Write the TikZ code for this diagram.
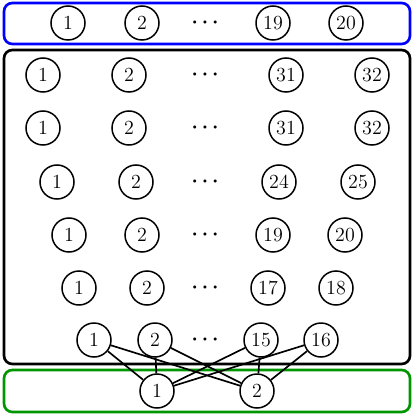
\documentclass[tikz,border=0pt]{standalone}
\usepackage{amsmath}
\usepackage{bm}
\begin{document}
\begin{tikzpicture}[x=0.6pt,y=-0.6pt,
  nd/.style={draw,circle,line width=0.9pt,minimum size=20.4pt,inner sep=0pt,font=\large},
  dt/.style={inner sep=0pt,font=\large},
  box/.style={line width=1.6pt,rounded corners=5pt},
  ed/.style={line width=1pt}]
\useasboundingbox (0,0) rectangle (415,415);
\definecolor{gr}{RGB}{0,150,0}
\draw[box,blue] (4,3) rectangle (410,44);
\draw[box,black] (4,50) rectangle (410,364);
\draw[box,gr] (4,370) rectangle (410,412);
% top row
\node[nd] (t1) at (68,23) {1};
\node[nd] (t2) at (142,23) {2};
\node[dt] (td) at (207,23) {$\bm{\cdots}$};
\node[nd] (t19) at (273,23) {19};
\node[nd] (t20) at (346,23) {20};
% row 1
\node[nd] (a1) at (43,75) {1};
\node[nd] (a2) at (129,75) {2};
\node[dt] (ad) at (207,75) {$\bm{\cdots}$};
\node[nd] (a31) at (286,75) {31};
\node[nd] (a32) at (372,75) {32};
% row 2
\node[nd] (b1) at (43,128) {1};
\node[nd] (b2) at (129,128) {2};
\node[dt] (bd) at (207,128) {$\bm{\cdots}$};
\node[nd] (b31) at (286,128) {31};
\node[nd] (b32) at (372,128) {32};
% row 3
\node[nd] (c1) at (57,182) {1};
\node[nd] (c2) at (136,182) {2};
\node[dt] (cd) at (207,182) {$\bm{\cdots}$};
\node[nd] (c24) at (279,182) {24};
\node[nd] (c25) at (358,182) {25};
% row 4
\node[nd] (d1) at (69,235) {1};
\node[nd] (d2) at (142,235) {2};
\node[dt] (dd) at (207,235) {$\bm{\cdots}$};
\node[nd] (d19) at (273,235) {19};
\node[nd] (d20) at (345,235) {20};
% row 5
\node[nd] (e1) at (79,288) {1};
\node[nd] (e2) at (147,288) {2};
\node[dt] (ed) at (207,288) {$\bm{\cdots}$};
\node[nd] (e17) at (268,288) {17};
\node[nd] (e18) at (336,288) {18};
% row 6
\node[nd] (f1) at (94,340) {1};
\node[nd] (f2) at (155,340) {2};
\node[dt] (fd) at (207,340) {$\bm{\cdots}$};
\node[nd] (f15) at (261,340) {15};
\node[nd] (f16) at (321,340) {16};
% bottom
\node[nd] (g1) at (157,391) {1};
\node[nd] (g2) at (257,391) {2};
\foreach \s in {f1,f2,f15,f16}{
  \draw[ed] (\s) -- (g1);
  \draw[ed] (\s) -- (g2);
}
\end{tikzpicture}
\end{document}
